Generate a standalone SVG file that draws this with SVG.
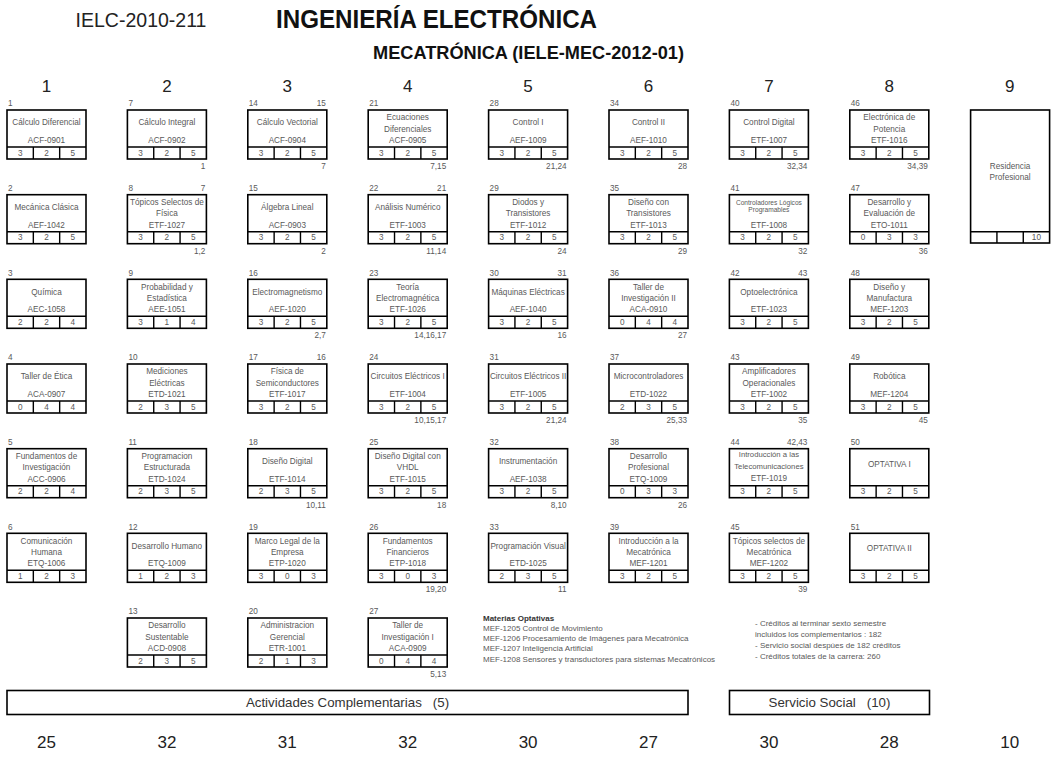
<svg xmlns="http://www.w3.org/2000/svg" xmlns:xlink="http://www.w3.org/1999/xlink" width="1057" height="760" viewBox="0 0 1057 760">
<style>
.b{fill:#fff;stroke:#000;stroke-width:1.6}
.l{fill:none;stroke:#000;stroke-width:1.4}
.t{font-family:"Liberation Sans",Arial,sans-serif;font-size:8.2px;fill:#595959;text-anchor:middle}
.s{font-size:6.6px}
.m{font-size:7.7px}
.n{font-family:"Liberation Sans",Arial,sans-serif;font-size:8.2px;fill:#595959;text-anchor:start}
.r{font-family:"Liberation Sans",Arial,sans-serif;font-size:8.2px;fill:#595959;text-anchor:end}
.h{font-family:"Liberation Sans",Arial,sans-serif;font-size:17px;fill:#222;text-anchor:middle}
.o{font-family:"Liberation Sans",Arial,sans-serif;font-size:8px;fill:#595959}
.ob{font-weight:bold;fill:#333}
.big{font-family:"Liberation Sans",Arial,sans-serif;font-size:13.3px;fill:#333;text-anchor:middle}
</style>
<defs>
<g id="frame"><rect class="b" width="79" height="49"/><path class="l" d="M0 37H79M26.33 37V49M52.67 37V49"/></g>
</defs>
<rect width="1057" height="760" fill="#fff"/>
<g id="header">
<text x="141" y="27" font-family="'Liberation Sans',Arial,sans-serif" font-size="19.5" fill="#222" text-anchor="middle">IELC-2010-211</text>
<text x="276" y="28" font-family="'Liberation Sans',Arial,sans-serif" font-size="26" font-weight="bold" fill="#111" textLength="321" lengthAdjust="spacingAndGlyphs">INGENIERÍA ELECTRÓNICA</text>
<text x="373" y="59" font-family="'Liberation Sans',Arial,sans-serif" font-size="19" font-weight="bold" fill="#111" textLength="311" lengthAdjust="spacingAndGlyphs">MECATRÓNICA (IELE-MEC-2012-01)</text>
</g>
<g id="semesters">
<text class="h" x="46.5" y="92">1</text><text class="h" x="166.9" y="92">2</text><text class="h" x="287.3" y="92">3</text><text class="h" x="407.7" y="92">4</text><text class="h" x="528.1" y="92">5</text><text class="h" x="648.5" y="92">6</text><text class="h" x="768.9" y="92">7</text><text class="h" x="889.3" y="92">8</text><text class="h" x="1009.7" y="92">9</text>
</g>
<g id="totals">
<text class="h" x="46.5" y="748">25</text><text class="h" x="166.9" y="748">32</text><text class="h" x="287.3" y="748">31</text><text class="h" x="407.7" y="748">32</text><text class="h" x="528.1" y="748">30</text><text class="h" x="648.5" y="748">27</text><text class="h" x="768.9" y="748">30</text><text class="h" x="889.3" y="748">28</text><text class="h" x="1009.7" y="748">10</text>
</g>

<!-- Column 1 -->
<g id="n1" transform="translate(7,110)"><use href="#frame"/><text class="n" x="1" y="-3.7">1</text><text class="t" x="39.5" y="15.3">Cálculo Diferencial</text><text class="t" x="39.5" y="33">ACF-0901</text><text class="t" y="45.5"><tspan x="13.2">3</tspan><tspan x="39.5">2</tspan><tspan x="65.8">5</tspan></text></g>
<g id="n2" transform="translate(7,194.7)"><use href="#frame"/><text class="n" x="1" y="-3.7">2</text><text class="t" x="39.5" y="15.3">Mecánica Clásica</text><text class="t" x="39.5" y="33">AEF-1042</text><text class="t" y="45.5"><tspan x="13.2">3</tspan><tspan x="39.5">2</tspan><tspan x="65.8">5</tspan></text></g>
<g id="n3" transform="translate(7,279.3)"><use href="#frame"/><text class="n" x="1" y="-3.7">3</text><text class="t" x="39.5" y="15.3">Química</text><text class="t" x="39.5" y="33">AEC-1058</text><text class="t" y="45.5"><tspan x="13.2">2</tspan><tspan x="39.5">2</tspan><tspan x="65.8">4</tspan></text></g>
<g id="n4" transform="translate(7,364)"><use href="#frame"/><text class="n" x="1" y="-3.7">4</text><text class="t" x="39.5" y="15.3">Taller de Ética</text><text class="t" x="39.5" y="33">ACA-0907</text><text class="t" y="45.5"><tspan x="13.2">0</tspan><tspan x="39.5">4</tspan><tspan x="65.8">4</tspan></text></g>
<g id="n5" transform="translate(7,448.7)"><use href="#frame"/><text class="n" x="1" y="-3.7">5</text><text class="t" x="39.5" y="10.3">Fundamentos de</text><text class="t" x="39.5" y="21.6">Investigación</text><text class="t" x="39.5" y="33">ACC-0906</text><text class="t" y="45.5"><tspan x="13.2">2</tspan><tspan x="39.5">2</tspan><tspan x="65.8">4</tspan></text></g>
<g id="n6" transform="translate(7,533.3)"><use href="#frame"/><text class="n" x="1" y="-3.7">6</text><text class="t" x="39.5" y="10.3">Comunicación</text><text class="t" x="39.5" y="21.6">Humana</text><text class="t" x="39.5" y="33">ETQ-1006</text><text class="t" y="45.5"><tspan x="13.2">1</tspan><tspan x="39.5">2</tspan><tspan x="65.8">3</tspan></text></g>

<!-- Column 2 -->
<g id="n7" transform="translate(127.4,110)"><use href="#frame"/><text class="n" x="1" y="-3.7">7</text><text class="t" x="39.5" y="15.3">Cálculo Integral</text><text class="t" x="39.5" y="33">ACF-0902</text><text class="t" y="45.5"><tspan x="13.2">3</tspan><tspan x="39.5">2</tspan><tspan x="65.8">5</tspan></text><text class="r" x="78" y="59">1</text></g>
<g id="n8" transform="translate(127.4,194.7)"><use href="#frame"/><text class="n" x="1" y="-3.7">8</text><text class="r" x="78" y="-3.7">7</text><text class="t" x="39.5" y="10.3">Tópicos Selectos de</text><text class="t" x="39.5" y="21.6">Física</text><text class="t" x="39.5" y="33">ETF-1027</text><text class="t" y="45.5"><tspan x="13.2">3</tspan><tspan x="39.5">2</tspan><tspan x="65.8">5</tspan></text><text class="r" x="78" y="59">1,2</text></g>
<g id="n9" transform="translate(127.4,279.3)"><use href="#frame"/><text class="n" x="1" y="-3.7">9</text><text class="t" x="39.5" y="10.3">Probabilidad y</text><text class="t" x="39.5" y="21.6">Estadística</text><text class="t" x="39.5" y="33">AEE-1051</text><text class="t" y="45.5"><tspan x="13.2">3</tspan><tspan x="39.5">1</tspan><tspan x="65.8">4</tspan></text></g>
<g id="n10" transform="translate(127.4,364)"><use href="#frame"/><text class="n" x="1" y="-3.7">10</text><text class="t" x="39.5" y="10.3">Mediciones</text><text class="t" x="39.5" y="21.6">Eléctricas</text><text class="t" x="39.5" y="33">ETD-1021</text><text class="t" y="45.5"><tspan x="13.2">2</tspan><tspan x="39.5">3</tspan><tspan x="65.8">5</tspan></text></g>
<g id="n11" transform="translate(127.4,448.7)"><use href="#frame"/><text class="n" x="1" y="-3.7">11</text><text class="t" x="39.5" y="10.3">Programacion</text><text class="t" x="39.5" y="21.6">Estructurada</text><text class="t" x="39.5" y="33">ETD-1024</text><text class="t" y="45.5"><tspan x="13.2">2</tspan><tspan x="39.5">3</tspan><tspan x="65.8">5</tspan></text></g>
<g id="n12" transform="translate(127.4,533.3)"><use href="#frame"/><text class="n" x="1" y="-3.7">12</text><text class="t" x="39.5" y="15.3">Desarrollo Humano</text><text class="t" x="39.5" y="33">ETQ-1009</text><text class="t" y="45.5"><tspan x="13.2">1</tspan><tspan x="39.5">2</tspan><tspan x="65.8">3</tspan></text></g>
<g id="n13" transform="translate(127.4,618)"><use href="#frame"/><text class="n" x="1" y="-3.7">13</text><text class="t" x="39.5" y="10.3">Desarrollo</text><text class="t" x="39.5" y="21.6">Sustentable</text><text class="t" x="39.5" y="33">ACD-0908</text><text class="t" y="45.5"><tspan x="13.2">2</tspan><tspan x="39.5">3</tspan><tspan x="65.8">5</tspan></text></g>

<!-- Column 3 -->
<g id="n14" transform="translate(247.8,110)"><use href="#frame"/><text class="n" x="1" y="-3.7">14</text><text class="r" x="78" y="-3.7">15</text><text class="t" x="39.5" y="15.3">Cálculo Vectorial</text><text class="t" x="39.5" y="33">ACF-0904</text><text class="t" y="45.5"><tspan x="13.2">3</tspan><tspan x="39.5">2</tspan><tspan x="65.8">5</tspan></text><text class="r" x="78" y="59">7</text></g>
<g id="n15" transform="translate(247.8,194.7)"><use href="#frame"/><text class="n" x="1" y="-3.7">15</text><text class="t" x="39.5" y="15.3">Álgebra Lineal</text><text class="t" x="39.5" y="33">ACF-0903</text><text class="t" y="45.5"><tspan x="13.2">3</tspan><tspan x="39.5">2</tspan><tspan x="65.8">5</tspan></text><text class="r" x="78" y="59">2</text></g>
<g id="n16" transform="translate(247.8,279.3)"><use href="#frame"/><text class="n" x="1" y="-3.7">16</text><text class="t" x="39.5" y="15.3">Electromagnetismo</text><text class="t" x="39.5" y="33">AEF-1020</text><text class="t" y="45.5"><tspan x="13.2">3</tspan><tspan x="39.5">2</tspan><tspan x="65.8">5</tspan></text><text class="r" x="78" y="59">2,7</text></g>
<g id="n17" transform="translate(247.8,364)"><use href="#frame"/><text class="n" x="1" y="-3.7">17</text><text class="r" x="78" y="-3.7">16</text><text class="t" x="39.5" y="10.3">Física de</text><text class="t" x="39.5" y="21.6">Semiconductores</text><text class="t" x="39.5" y="33">ETF-1017</text><text class="t" y="45.5"><tspan x="13.2">3</tspan><tspan x="39.5">2</tspan><tspan x="65.8">5</tspan></text></g>
<g id="n18" transform="translate(247.8,448.7)"><use href="#frame"/><text class="n" x="1" y="-3.7">18</text><text class="t" x="39.5" y="15.3">Diseño Digital</text><text class="t" x="39.5" y="33">ETF-1014</text><text class="t" y="45.5"><tspan x="13.2">2</tspan><tspan x="39.5">3</tspan><tspan x="65.8">5</tspan></text><text class="r" x="78" y="59">10,11</text></g>
<g id="n19" transform="translate(247.8,533.3)"><use href="#frame"/><text class="n" x="1" y="-3.7">19</text><text class="t" x="39.5" y="10.3">Marco Legal de la</text><text class="t" x="39.5" y="21.6">Empresa</text><text class="t" x="39.5" y="33">ETP-1020</text><text class="t" y="45.5"><tspan x="13.2">3</tspan><tspan x="39.5">0</tspan><tspan x="65.8">3</tspan></text></g>
<g id="n20" transform="translate(247.8,618)"><use href="#frame"/><text class="n" x="1" y="-3.7">20</text><text class="t" x="39.5" y="10.3">Administracion</text><text class="t" x="39.5" y="21.6">Gerencial</text><text class="t" x="39.5" y="33">ETR-1001</text><text class="t" y="45.5"><tspan x="13.2">2</tspan><tspan x="39.5">1</tspan><tspan x="65.8">3</tspan></text></g>

<!-- Column 4 -->
<g id="n21" transform="translate(368.2,110)"><use href="#frame"/><text class="n" x="1" y="-3.7">21</text><text class="t" x="39.5" y="10.3">Ecuaciones</text><text class="t" x="39.5" y="21.6">Diferenciales</text><text class="t" x="39.5" y="33">ACF-0905</text><text class="t" y="45.5"><tspan x="13.2">3</tspan><tspan x="39.5">2</tspan><tspan x="65.8">5</tspan></text><text class="r" x="78" y="59">7,15</text></g>
<g id="n22" transform="translate(368.2,194.7)"><use href="#frame"/><text class="n" x="1" y="-3.7">22</text><text class="r" x="78" y="-3.7">21</text><text class="t" x="39.5" y="15.3">Análisis Numérico</text><text class="t" x="39.5" y="33">ETF-1003</text><text class="t" y="45.5"><tspan x="13.2">3</tspan><tspan x="39.5">2</tspan><tspan x="65.8">5</tspan></text><text class="r" x="78" y="59">11,14</text></g>
<g id="n23" transform="translate(368.2,279.3)"><use href="#frame"/><text class="n" x="1" y="-3.7">23</text><text class="t" x="39.5" y="10.3">Teoría</text><text class="t" x="39.5" y="21.6">Electromagnética</text><text class="t" x="39.5" y="33">ETF-1026</text><text class="t" y="45.5"><tspan x="13.2">3</tspan><tspan x="39.5">2</tspan><tspan x="65.8">5</tspan></text><text class="r" x="78" y="59">14,16,17</text></g>
<g id="n24" transform="translate(368.2,364)"><use href="#frame"/><text class="n" x="1" y="-3.7">24</text><text class="t" x="39.5" y="15.3">Circuitos Eléctricos I</text><text class="t" x="39.5" y="33">ETF-1004</text><text class="t" y="45.5"><tspan x="13.2">3</tspan><tspan x="39.5">2</tspan><tspan x="65.8">5</tspan></text><text class="r" x="78" y="59">10,15,17</text></g>
<g id="n25" transform="translate(368.2,448.7)"><use href="#frame"/><text class="n" x="1" y="-3.7">25</text><text class="t" x="39.5" y="10.3">Diseño Digital con</text><text class="t" x="39.5" y="21.6">VHDL</text><text class="t" x="39.5" y="33">ETF-1015</text><text class="t" y="45.5"><tspan x="13.2">3</tspan><tspan x="39.5">2</tspan><tspan x="65.8">5</tspan></text><text class="r" x="78" y="59">18</text></g>
<g id="n26" transform="translate(368.2,533.3)"><use href="#frame"/><text class="n" x="1" y="-3.7">26</text><text class="t" x="39.5" y="10.3">Fundamentos</text><text class="t" x="39.5" y="21.6">Financieros</text><text class="t" x="39.5" y="33">ETP-1018</text><text class="t" y="45.5"><tspan x="13.2">3</tspan><tspan x="39.5">0</tspan><tspan x="65.8">3</tspan></text><text class="r" x="78" y="59">19,20</text></g>
<g id="n27" transform="translate(368.2,618)"><use href="#frame"/><text class="n" x="1" y="-3.7">27</text><text class="t" x="39.5" y="10.3">Taller de</text><text class="t" x="39.5" y="21.6">Investigación I</text><text class="t" x="39.5" y="33">ACA-0909</text><text class="t" y="45.5"><tspan x="13.2">0</tspan><tspan x="39.5">4</tspan><tspan x="65.8">4</tspan></text><text class="r" x="78" y="59">5,13</text></g>

<!-- Column 5 -->
<g id="n28" transform="translate(488.6,110)"><use href="#frame"/><text class="n" x="1" y="-3.7">28</text><text class="t" x="39.5" y="15.3">Control I</text><text class="t" x="39.5" y="33">AEF-1009</text><text class="t" y="45.5"><tspan x="13.2">3</tspan><tspan x="39.5">2</tspan><tspan x="65.8">5</tspan></text><text class="r" x="78" y="59">21,24</text></g>
<g id="n29" transform="translate(488.6,194.7)"><use href="#frame"/><text class="n" x="1" y="-3.7">29</text><text class="t" x="39.5" y="10.3">Diodos y</text><text class="t" x="39.5" y="21.6">Transistores</text><text class="t" x="39.5" y="33">ETF-1012</text><text class="t" y="45.5"><tspan x="13.2">3</tspan><tspan x="39.5">2</tspan><tspan x="65.8">5</tspan></text><text class="r" x="78" y="59">24</text></g>
<g id="n30" transform="translate(488.6,279.3)"><use href="#frame"/><text class="n" x="1" y="-3.7">30</text><text class="r" x="78" y="-3.7">31</text><text class="t" x="39.5" y="15.3">Máquinas Eléctricas</text><text class="t" x="39.5" y="33">AEF-1040</text><text class="t" y="45.5"><tspan x="13.2">3</tspan><tspan x="39.5">2</tspan><tspan x="65.8">5</tspan></text><text class="r" x="78" y="59">16</text></g>
<g id="n31" transform="translate(488.6,364)"><use href="#frame"/><text class="n" x="1" y="-3.7">31</text><text class="t" x="39.5" y="15.3">Circuitos Eléctricos II</text><text class="t" x="39.5" y="33">ETF-1005</text><text class="t" y="45.5"><tspan x="13.2">3</tspan><tspan x="39.5">2</tspan><tspan x="65.8">5</tspan></text><text class="r" x="78" y="59">21,24</text></g>
<g id="n32" transform="translate(488.6,448.7)"><use href="#frame"/><text class="n" x="1" y="-3.7">32</text><text class="t" x="39.5" y="15.3">Instrumentación</text><text class="t" x="39.5" y="33">AEF-1038</text><text class="t" y="45.5"><tspan x="13.2">3</tspan><tspan x="39.5">2</tspan><tspan x="65.8">5</tspan></text><text class="r" x="78" y="59">8,10</text></g>
<g id="n33" transform="translate(488.6,533.3)"><use href="#frame"/><text class="n" x="1" y="-3.7">33</text><text class="t" x="39.5" y="15.3">Programación Visual</text><text class="t" x="39.5" y="33">ETD-1025</text><text class="t" y="45.5"><tspan x="13.2">2</tspan><tspan x="39.5">3</tspan><tspan x="65.8">5</tspan></text><text class="r" x="78" y="59">11</text></g>

<!-- Column 6 -->
<g id="n34" transform="translate(609,110)"><use href="#frame"/><text class="n" x="1" y="-3.7">34</text><text class="t" x="39.5" y="15.3">Control II</text><text class="t" x="39.5" y="33">AEF-1010</text><text class="t" y="45.5"><tspan x="13.2">3</tspan><tspan x="39.5">2</tspan><tspan x="65.8">5</tspan></text><text class="r" x="78" y="59">28</text></g>
<g id="n35" transform="translate(609,194.7)"><use href="#frame"/><text class="n" x="1" y="-3.7">35</text><text class="t" x="39.5" y="10.3">Diseño con</text><text class="t" x="39.5" y="21.6">Transistores</text><text class="t" x="39.5" y="33">ETF-1013</text><text class="t" y="45.5"><tspan x="13.2">3</tspan><tspan x="39.5">2</tspan><tspan x="65.8">5</tspan></text><text class="r" x="78" y="59">29</text></g>
<g id="n36" transform="translate(609,279.3)"><use href="#frame"/><text class="n" x="1" y="-3.7">36</text><text class="t" x="39.5" y="10.3">Taller de</text><text class="t" x="39.5" y="21.6">Investigación II</text><text class="t" x="39.5" y="33">ACA-0910</text><text class="t" y="45.5"><tspan x="13.2">0</tspan><tspan x="39.5">4</tspan><tspan x="65.8">4</tspan></text><text class="r" x="78" y="59">27</text></g>
<g id="n37" transform="translate(609,364)"><use href="#frame"/><text class="n" x="1" y="-3.7">37</text><text class="t" x="39.5" y="15.3">Microcontroladores</text><text class="t" x="39.5" y="33">ETD-1022</text><text class="t" y="45.5"><tspan x="13.2">2</tspan><tspan x="39.5">3</tspan><tspan x="65.8">5</tspan></text><text class="r" x="78" y="59">25,33</text></g>
<g id="n38" transform="translate(609,448.7)"><use href="#frame"/><text class="n" x="1" y="-3.7">38</text><text class="t" x="39.5" y="10.3">Desarrollo</text><text class="t" x="39.5" y="21.6">Profesional</text><text class="t" x="39.5" y="33">ETQ-1009</text><text class="t" y="45.5"><tspan x="13.2">0</tspan><tspan x="39.5">3</tspan><tspan x="65.8">3</tspan></text><text class="r" x="78" y="59">26</text></g>
<g id="n39" transform="translate(609,533.3)"><use href="#frame"/><text class="n" x="1" y="-3.7">39</text><text class="t" x="39.5" y="10.3">Introducción a la</text><text class="t" x="39.5" y="21.6">Mecatrónica</text><text class="t" x="39.5" y="33">MEF-1201</text><text class="t" y="45.5"><tspan x="13.2">3</tspan><tspan x="39.5">2</tspan><tspan x="65.8">5</tspan></text></g>

<!-- Column 7 -->
<g id="n40" transform="translate(729.4,110)"><use href="#frame"/><text class="n" x="1" y="-3.7">40</text><text class="t" x="39.5" y="15.3">Control Digital</text><text class="t" x="39.5" y="33">ETF-1007</text><text class="t" y="45.5"><tspan x="13.2">3</tspan><tspan x="39.5">2</tspan><tspan x="65.8">5</tspan></text><text class="r" x="78" y="59">32,34</text></g>
<g id="n41" transform="translate(729.4,194.7)"><use href="#frame"/><text class="n" x="1" y="-3.7">41</text><text class="t s" x="39.5" y="10.5">Controladores Lógicos</text><text class="t s" x="39.5" y="17.2">Programables</text><text class="t" x="39.5" y="33">ETF-1008</text><text class="t" y="45.5"><tspan x="13.2">3</tspan><tspan x="39.5">2</tspan><tspan x="65.8">5</tspan></text><text class="r" x="78" y="59">32</text></g>
<g id="n42" transform="translate(729.4,279.3)"><use href="#frame"/><text class="n" x="1" y="-3.7">42</text><text class="r" x="78" y="-3.7">43</text><text class="t" x="39.5" y="15.3">Optoelectrónica</text><text class="t" x="39.5" y="33">ETF-1023</text><text class="t" y="45.5"><tspan x="13.2">3</tspan><tspan x="39.5">2</tspan><tspan x="65.8">5</tspan></text></g>
<g id="n43" transform="translate(729.4,364)"><use href="#frame"/><text class="n" x="1" y="-3.7">43</text><text class="t" x="39.5" y="10.3">Amplificadores</text><text class="t" x="39.5" y="21.6">Operacionales</text><text class="t" x="39.5" y="33">ETF-1002</text><text class="t" y="45.5"><tspan x="13.2">3</tspan><tspan x="39.5">2</tspan><tspan x="65.8">5</tspan></text><text class="r" x="78" y="59">35</text></g>
<g id="n44" transform="translate(729.4,448.7)"><use href="#frame"/><text class="n" x="1" y="-3.7">44</text><text class="r" x="78" y="-3.7">42,43</text><text class="t m" x="39.5" y="8.6">Introducción a las</text><text class="t m" x="39.5" y="20.2">Telecomunicaciones</text><text class="t" x="39.5" y="32.8">ETF-1019</text><text class="t" y="45.5"><tspan x="13.2">3</tspan><tspan x="39.5">2</tspan><tspan x="65.8">5</tspan></text></g>
<g id="n45" transform="translate(729.4,533.3)"><use href="#frame"/><text class="n" x="1" y="-3.7">45</text><text class="t" x="39.5" y="10.3">Tópicos selectos de</text><text class="t" x="39.5" y="21.6">Mecatrónica</text><text class="t" x="39.5" y="33">MEF-1202</text><text class="t" y="45.5"><tspan x="13.2">3</tspan><tspan x="39.5">2</tspan><tspan x="65.8">5</tspan></text><text class="r" x="78" y="59">39</text></g>

<!-- Column 8 -->
<g id="n46" transform="translate(849.8,110)"><use href="#frame"/><text class="n" x="1" y="-3.7">46</text><text class="t" x="39.5" y="10.3">Electrónica de</text><text class="t" x="39.5" y="21.6">Potencia</text><text class="t" x="39.5" y="33">ETF-1016</text><text class="t" y="45.5"><tspan x="13.2">3</tspan><tspan x="39.5">2</tspan><tspan x="65.8">5</tspan></text><text class="r" x="78" y="59">34,39</text></g>
<g id="n47" transform="translate(849.8,194.7)"><use href="#frame"/><text class="n" x="1" y="-3.7">47</text><text class="t" x="39.5" y="10.3">Desarrollo y</text><text class="t" x="39.5" y="21.6">Evaluación de</text><text class="t" x="39.5" y="33">ETO-1011</text><text class="t" y="45.5"><tspan x="13.2">0</tspan><tspan x="39.5">3</tspan><tspan x="65.8">3</tspan></text><text class="r" x="78" y="59">36</text></g>
<g id="n48" transform="translate(849.8,279.3)"><use href="#frame"/><text class="n" x="1" y="-3.7">48</text><text class="t" x="39.5" y="10.3">Diseño y</text><text class="t" x="39.5" y="21.6">Manufactura</text><text class="t" x="39.5" y="33">MEF-1203</text><text class="t" y="45.5"><tspan x="13.2">3</tspan><tspan x="39.5">2</tspan><tspan x="65.8">5</tspan></text></g>
<g id="n49" transform="translate(849.8,364)"><use href="#frame"/><text class="n" x="1" y="-3.7">49</text><text class="t" x="39.5" y="15.3">Robótica</text><text class="t" x="39.5" y="33">MEF-1204</text><text class="t" y="45.5"><tspan x="13.2">3</tspan><tspan x="39.5">2</tspan><tspan x="65.8">5</tspan></text><text class="r" x="78" y="59">45</text></g>
<g id="n50" transform="translate(849.8,448.7)"><use href="#frame"/><text class="n" x="1" y="-3.7">50</text><text class="t" x="39.5" y="18">OPTATIVA I</text><text class="t" y="45.5"><tspan x="13.2">3</tspan><tspan x="39.5">2</tspan><tspan x="65.8">5</tspan></text></g>
<g id="n51" transform="translate(849.8,533.3)"><use href="#frame"/><text class="n" x="1" y="-3.7">51</text><text class="t" x="39.5" y="18">OPTATIVA II</text><text class="t" y="45.5"><tspan x="13.2">3</tspan><tspan x="39.5">2</tspan><tspan x="65.8">5</tspan></text></g>

<!-- Column 9 -->
<g id="residencia" transform="translate(970.6,110)"><rect class="b" width="79" height="133"/><path class="l" d="M0 121.7H79M26.33 121.7V133M52.67 121.7V133"/><text class="t" x="39.5" y="58.7">Residencia</text><text class="t" x="39.5" y="69.7">Profesional</text><text class="t" x="65.8" y="130.3">10</text></g>

<g id="optativas">
<text class="o ob" x="483" y="620.7">Materias Optativas</text>
<text class="o" x="483" y="631">MEF-1205 Control de Movimiento</text>
<text class="o" x="483" y="641.2">MEF-1206 Procesamiento de Imágenes para Mecatrónica</text>
<text class="o" x="483" y="651.4">MEF-1207 Inteligencia Artificial</text>
<text class="o" x="483" y="661.6">MEF-1208 Sensores y transductores para sistemas Mecatrónicos</text>
</g>
<g id="notas">
<text class="o" x="755" y="626.3">- Créditos al terminar sexto semestre</text>
<text class="o" x="755" y="637.3">incluidos los complementarios : 182</text>
<text class="o" x="755" y="648">- Servicio social despúes de 182 créditos</text>
<text class="o" x="755" y="659">- Créditos totales de la carrera: 260</text>
</g>
<g id="actividades"><rect class="b" x="7" y="690.5" width="681" height="24"/><text class="big" x="347.5" y="707.3">Actividades Complementarias<tspan dx="11">(5)</tspan></text></g>
<g id="servicio"><rect class="b" x="729.5" y="690.5" width="200" height="24"/><text class="big" x="829.5" y="707.3">Servicio Social<tspan dx="11">(10)</tspan></text></g>
</svg>
